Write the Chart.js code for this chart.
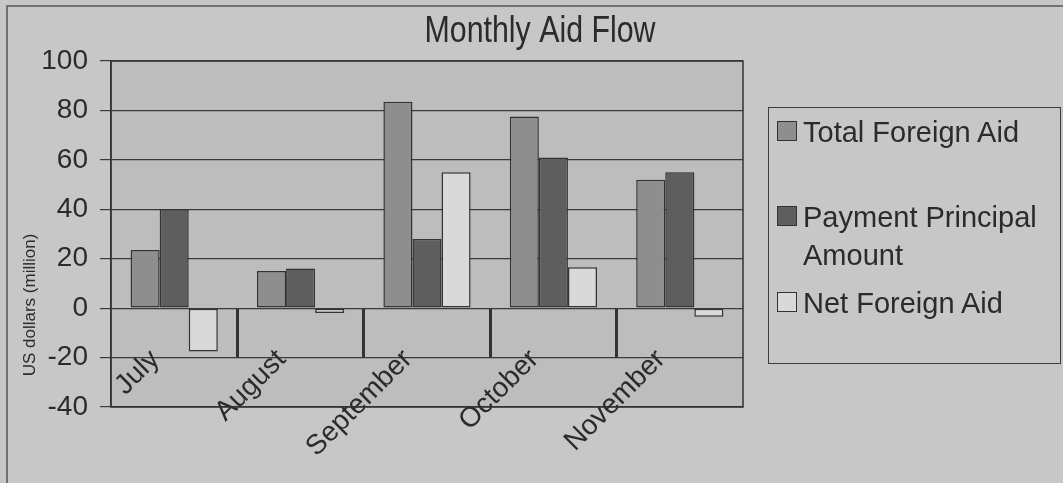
<!DOCTYPE html>
<html>
<head>
<meta charset="utf-8">
<title>Monthly Aid Flow</title>
<script src="https://cdn.jsdelivr.net/npm/chart.js@4.4.1/dist/chart.umd.min.js"></script>
<style>
  body { margin: 0; background: #c7c7c7; }
  #wrap { position: relative; width: 1063px; height: 483px; }
  #legend {
    position: absolute; left: 768px; top: 107px; width: 293px; height: 257px;
    border: 1.5px solid #3c3c3c; box-sizing: border-box;
    font-family: 'Liberation Sans', Arial, sans-serif; font-size: 29px; color: #2b2b2b;
  }
  .item { position: absolute; left: 8px; display: flex; align-items: flex-start; line-height: 38px; }
  .swatch { width: 18px; height: 18px; border: 1.5px solid #333; margin-top: 8px; margin-right: 6px; flex: none; }
  .text { width: 245px; }
</style>
</head>
<body>
<div id="wrap">
  <canvas id="chart"></canvas>
  <div id="legend"></div>
</div>
<script>
const chartTitle = 'Monthly Aid Flow';
const yCaption = 'US dollars (million)';
const months = ['July', 'August', 'September', 'October', 'November'];
const totalAid = [23.5, 15, 83.5, 77.5, 52];
const principal = [40, 16, 28, 61, 55];
const netAid = [-17.5, -2, 55, 16.5, -3.5];
const yTicks = [-40, -20, 0, 20, 40, 60, 80, 100];

const ink = '#333333';
const legendTops = [4.5, 89.5, 175.5];

// paper frame, plot background and outline, title and y axis caption
const paper = {
  id: 'paper',
  beforeDraw(chart) {
    const { ctx, chartArea: a } = chart;
    ctx.save();
    ctx.fillStyle = '#bdbdbd';
    ctx.fillRect(a.left, a.top, a.right - a.left, a.bottom - a.top);
    ctx.strokeStyle = '#555';
    ctx.lineWidth = 1.5;
    ctx.beginPath();
    ctx.moveTo(7, 483);
    ctx.lineTo(7, 6);
    ctx.lineTo(1063, 6);
    ctx.stroke();
    ctx.restore();
  },
  afterDraw(chart) {
    const { ctx, chartArea: a } = chart;
    ctx.save();
    ctx.strokeStyle = ink;
    ctx.lineWidth = 1.5;
    ctx.strokeRect(a.left, a.top, a.right - a.left, a.bottom - a.top);
    ctx.fillStyle = '#2b2b2b';
    ctx.textAlign = 'center';

    // narrow title, like the original typeface
    ctx.save();
    ctx.translate(540, 42);
    ctx.scale(0.82, 1);
    ctx.font = "37px 'Liberation Sans', Arial, sans-serif";
    ctx.textBaseline = 'alphabetic';
    ctx.fillText(chartTitle, 0, 0);
    ctx.restore();

    ctx.translate(30, 305);
    ctx.rotate(-Math.PI / 2);
    ctx.font = "17px 'Liberation Sans', Arial, sans-serif";
    ctx.textBaseline = 'middle';
    ctx.fillText(yCaption, 0, 0);
    ctx.restore();
  }
};

const ctx = document.getElementById('chart').getContext('2d');
const chart = new Chart(ctx, {
  type: 'bar',
  data: {
    labels: months,
    datasets: [
      { label: 'Total Foreign Aid', data: totalAid, backgroundColor: '#8e8e8e' },
      { label: 'Payment Principal Amount', data: principal, backgroundColor: '#5e5e5e' },
      { label: 'Net Foreign Aid', data: netAid, backgroundColor: '#d9d9d9' }
    ]
  },
  options: {
    responsive: true,
    maintainAspectRatio: false,
    animation: false,
    layout: { padding: { left: 18, right: 320, top: 61, bottom: 76 } },
    datasets: {
      bar: {
        categoryPercentage: 0.69,
        barPercentage: 1,
        borderColor: ink,
        borderWidth: 1.5,
        borderSkipped: false
      }
    },
    plugins: {
      legend: { display: false },
      tooltip: { enabled: false },
      title: { display: false }
    },
    scales: {
      x: {
        position: { y: 0 },
        grid: {
          offset: true,
          drawOnChartArea: false,
          drawTicks: true,
          tickLength: 49,
          tickWidth: 3,
          tickColor: c => (c.index > 0 && c.index < months.length) ? ink : 'rgba(0,0,0,0)'
        },
        border: { display: false },
        ticks: {
          autoSkip: false,
          minRotation: 45,
          maxRotation: 45,
          padding: -14,
          labelOffset: -19,
          color: '#2b2b2b',
          font: { family: "'Liberation Sans', Arial, sans-serif", size: 28 }
        }
      },
      y: {
        min: yTicks[0],
        max: yTicks[yTicks.length - 1],
        afterFit: s => { s.width = 93; },
        afterBuildTicks: s => { s.ticks = yTicks.map(v => ({ value: v })); },
        grid: { color: '#3a3a3a', lineWidth: 1.2, tickLength: 11, tickColor: '#3a3a3a' },
        border: { display: true, color: ink, width: 1.5 },
        ticks: {
          padding: 12,
          color: '#2b2b2b',
          font: { family: "'Liberation Sans', Arial, sans-serif", size: 28 }
        }
      }
    }
  },
  plugins: [paper]
});

// HTML legend so the long label can wrap onto two lines
const legend = document.getElementById('legend');
chart.data.datasets.forEach((ds, i) => {
  const item = document.createElement('div');
  item.className = 'item';
  item.style.top = legendTops[i] + 'px';
  const sw = document.createElement('span');
  sw.className = 'swatch';
  sw.style.background = ds.backgroundColor;
  const tx = document.createElement('span');
  tx.className = 'text';
  tx.textContent = ds.label;
  item.appendChild(sw);
  item.appendChild(tx);
  legend.appendChild(item);
});
</script>
</body>
</html>
